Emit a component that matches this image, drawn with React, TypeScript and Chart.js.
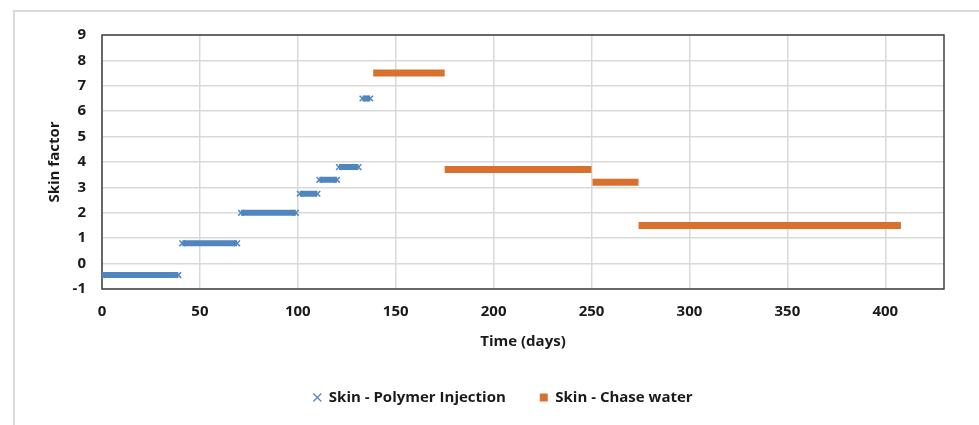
import React, { useEffect, useRef } from "react";
import { Chart, registerables } from "chart.js";

Chart.register(...registerables);

// Polymer injection skin segments: [startDay, endDay, skin]
const polymerStart = [0, 41, 71, 101, 111, 121, 133];
const polymerEnd = [39, 69, 99, 110, 120, 131, 137];
const polymerSkin = [-0.45, 0.8, 2.0, 2.75, 3.3, 3.8, 6.5];

// Chase water skin segments
const chaseStart = [138.5, 175, 250.5, 274];
const chaseEnd = [175, 250, 274, 408];
const chaseSkin = [7.5, 3.7, 3.2, 1.5];

const xTicksMax = 430;
const yMin = -1;
const yMax = 9;

const BLUE = "#4f86c0";
const ORANGE = "#d9712e";
const FONT = "'Open Sans', sans-serif";

function segments(starts: number[], ends: number[], ys: number[]) {
  const out: any[] = [];
  starts.forEach((s, i) => {
    out.push({ x: s, y: ys[i] });
    out.push({ x: ends[i], y: ys[i] });
    out.push({ x: ends[i], y: null });
  });
  return out;
}

const frame = {
  id: "frame",
  beforeDatasetsDraw(chart: any) {
    const { ctx, chartArea } = chart;
    ctx.save();
    ctx.strokeStyle = "#404040";
    ctx.lineWidth = 1.5;
    ctx.strokeRect(chartArea.left, chartArea.top, chartArea.right - chartArea.left, chartArea.bottom - chartArea.top);
    ctx.restore();
  },
};

export default function App() {
  const ref = useRef<HTMLCanvasElement>(null);
  useEffect(() => {
    if (!ref.current) return;
    const chart = new Chart(ref.current, {
      type: "scatter",
      data: {
        datasets: [
          {
            label: "Skin - Polymer Injection",
            data: segments(polymerStart, polymerEnd, polymerSkin),
            showLine: true,
            spanGaps: false,
            borderColor: BLUE,
            backgroundColor: BLUE,
            borderWidth: 6,
            borderCapStyle: "butt",
            pointStyle: "crossRot",
            pointRadius: 4,
            pointBorderWidth: 1.5,
            pointBorderColor: BLUE,
          } as any,
          {
            label: "Skin - Chase water",
            data: segments(chaseStart, chaseEnd, chaseSkin),
            showLine: true,
            spanGaps: false,
            borderColor: ORANGE,
            backgroundColor: ORANGE,
            borderWidth: 7,
            borderCapStyle: "butt",
            pointStyle: "rect",
            pointRadius: 0,
          } as any,
        ],
      },
      options: {
        animation: false,
        responsive: false,
        maintainAspectRatio: false,
        layout: { padding: { left: 62, right: 35, top: 35, bottom: 10 } },
        plugins: {
          tooltip: { enabled: false },
          legend: {
            position: "bottom",
            labels: {
              usePointStyle: true,
              boxWidth: 8,
              boxHeight: 8,
              padding: 34,
              color: "#1a1a1a",
              font: { family: FONT, size: 15, weight: "bold" },
              generateLabels: (c: any) => {
                const items = Chart.defaults.plugins.legend.labels.generateLabels(c);
                items.forEach((it: any, i: number) => {
                  it.lineWidth = i === 0 ? 1.2 : 0;
                  it.pointStyle = i === 0 ? "crossRot" : "rect";
                  it.fillStyle = i === 0 ? BLUE : ORANGE;
                  it.strokeStyle = i === 0 ? BLUE : ORANGE;
                });
                return items;
              },
            },
          },
        },
        scales: {
          x: {
            type: "linear",
            min: 0,
            max: xTicksMax,
            afterFit: (s: any) => {
              s.height = 67;
            },
            ticks: {
              stepSize: 50,
              includeBounds: false,
              padding: 14,
              color: "#1a1a1a",
              font: { family: FONT, size: 15, weight: "bold" },
            },
            grid: { color: "#d9d9d9", lineWidth: 1.5, drawTicks: false },
            border: { display: false },
            title: {
              display: true,
              text: "Time (days)",
              color: "#1a1a1a",
              font: { family: FONT, size: 15, weight: "bold" },
              padding: { top: 0, bottom: 5 },
            },
          },
          y: {
            type: "linear",
            min: yMin,
            max: yMax,
            afterFit: (s: any) => {
              s.width = 40;
            },
            ticks: {
              stepSize: 1,
              padding: 16,
              color: "#1a1a1a",
              font: { family: FONT, size: 15, weight: "bold" },
            },
            grid: { color: "#d9d9d9", lineWidth: 1.5, drawTicks: false },
            border: { display: false },
            title: {
              display: true,
              text: "Skin factor",
              color: "#1a1a1a",
              font: { family: FONT, size: 15, weight: "bold" },
              padding: { top: -16, bottom: 0 },
            },
          },
        },
      },
      plugins: [frame],
    });
    return () => chart.destroy();
  }, []);

  return (
    <div style={{ position: "fixed", left: 0, top: 0, width: 979, height: 425, background: "#fff" }}>
      <div
        style={{
          position: "absolute",
          left: 13,
          top: 10,
          right: 0,
          bottom: 0,
          borderTop: "2px solid #d9d9d9",
          borderLeft: "2px solid #d9d9d9",
        }}
      />
      <canvas ref={ref} width={979} height={425} style={{ position: "absolute", left: 0, top: 0 }} />
    </div>
  );
}
